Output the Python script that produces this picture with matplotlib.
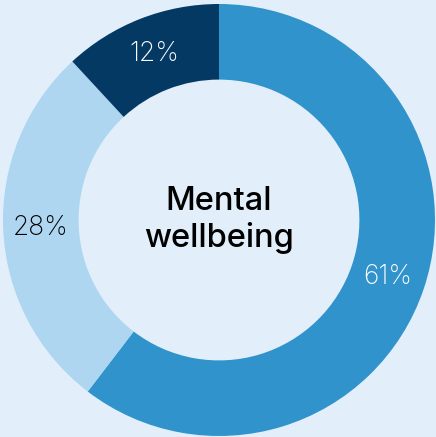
import numpy as np
import matplotlib
matplotlib.use('Agg')
import matplotlib.pyplot as plt

# Data
labels = ['61%', '28%', '12%']
values = [61, 28, 12]
colors = ['#3193cc', '#aed6f1', '#043963']
label_colors = ['white', 'black', 'white']
center_text = 'Mental\nwellbeing'

bg = '#e2effa'

fig = plt.figure(figsize=(4.36, 4.37), dpi=100, facecolor=bg)
ax = fig.add_axes([0, 0, 1, 1])
ax.set_facecolor(bg)

wedges, _ = ax.pie(values, colors=colors, startangle=90, counterclock=False,
                   radius=1.0, wedgeprops=dict(width=0.35, linewidth=0))

# Percent labels in the middle of the ring
for w, lab, c in zip(wedges, labels, label_colors):
    ang = np.deg2rad((w.theta1 + w.theta2) / 2)
    r = 0.825
    ax.text(r * np.cos(ang), r * np.sin(ang), lab, ha='center', va='center',
            fontsize=19, color=c, family='Inter', fontweight='light')

ax.text(0, 0.0, center_text, ha='center', va='center', fontsize=23.5,
        family='Inter', fontweight='medium', color='black', linespacing=1.2)

ax.set_xlim(-219 / 216, 217 / 216)
ax.set_ylim(-217 / 216, 220 / 216)
ax.set_aspect('auto')
ax.axis('off')

plt.savefig('out.png', dpi=100, facecolor=bg)
